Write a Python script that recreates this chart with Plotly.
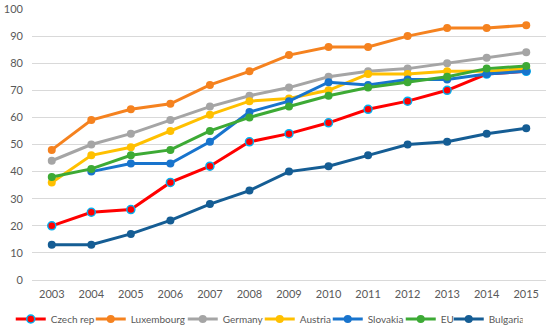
import plotly.graph_objects as go

years = ["2003", "2004", "2005", "2006", "2007", "2008", "2009",
         "2010", "2011", "2012", "2013", "2014", "2015"]

czech = [20, 25, 26, 36, 42, 51, 54, 58, 63, 66, 70, 76, 77]
luxembourg = [48, 59, 63, 65, 72, 77, 83, 86, 86, 90, 93, 93, 94]
germany = [44, 50, 54, 59, 64, 68, 71, 75, 77, 78, 80, 82, 84]
austria = [36, 46, 49, 55, 61, 66, 67, 70, 76, 76, 77, 77, 78]
slovakia = [None, 40, 43, 43, 51, 62, 66, 73, 72, 74, 74, 76, 77]
eu = [38, 41, 46, 48, 55, 60, 64, 68, 71, 73, 75, 78, 79]
bulgaria = [13, 13, 17, 22, 28, 33, 40, 42, 46, 50, 51, 54, 56]

names = ["Czech rep", "Luxembourg", "Germany", "Austria", "Slovakia", "EU", "Bulgaria"]
values = [czech, luxembourg, germany, austria, slovakia, eu, bulgaria]
colors = ["#FF0000", "#F5821F", "#A5A5A5", "#FFC000", "#1874CD", "#3DAA35", "#155D94"]
outlines = ["#00B0F0", None, None, None, None, None, None]
legend_widths = [35, 47, 32, 23, 28, 3, 29]

fig = go.Figure()
for name, vals, color, outline, lw in zip(names, values, colors, outlines, legend_widths):
    marker = dict(size=8, color=color)
    if outline:
        marker["line"] = dict(color=outline, width=1.5)
    fig.add_trace(go.Scatter(
        x=years, y=vals, name=name, mode="lines+markers",
        line=dict(color=color, width=3), marker=marker,
        legendwidth=lw,
    ))

fig.update_layout(
    width=550, height=333,
    margin=dict(l=32, r=4, t=9, b=53),
    paper_bgcolor="white", plot_bgcolor="white",
    font=dict(family="Lato, Open Sans, sans-serif", size=11, color="#595959"),
    showlegend=True,
    legend=dict(orientation="h", xref="container", yref="container",
                x=0.485, xanchor="center", y=0.042, yanchor="middle",
                font=dict(size=10, color="#595959"), itemwidth=30,
                tracegroupgap=0, bgcolor="rgba(0,0,0,0)"),
    xaxis=dict(type="category", range=[-0.5, 12.5], showgrid=False,
               showline=False, ticks="", zeroline=False,
               ticklabelstandoff=6, automargin=False),
    yaxis=dict(range=[0, 100], dtick=10, showgrid=True, gridcolor="#D9D9D9",
               gridwidth=1, zeroline=True, zerolinecolor="#D9D9D9",
               zerolinewidth=1, showline=False, ticks="",
               ticklabelstandoff=8, automargin=False),
)

fig.write_html("out.html", config={"displayModeBar": False},
               post_script="document.body.style.margin='0';")
